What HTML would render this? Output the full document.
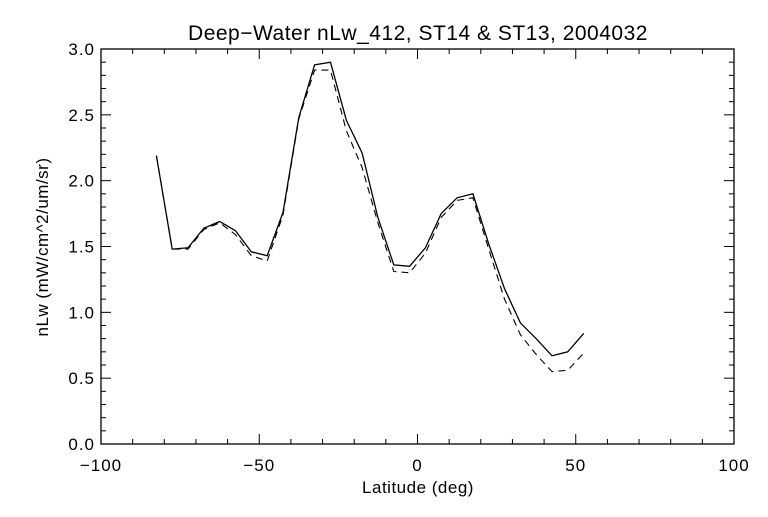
<!DOCTYPE html>
<html><head><meta charset="utf-8"><style>
body{margin:0;background:#fff;}
svg text{font-family:"Liberation Sans",sans-serif;fill:#000;}
</style></head><body>
<svg id="chart" width="768" height="512" xmlns="http://www.w3.org/2000/svg">
<rect width="768" height="512" fill="#fff"/>
<text x="418" y="40" font-size="21" text-anchor="middle" letter-spacing="0.5">Deep−Water nLw_412, ST14 &amp; ST13, 2004032</text>
<text x="418" y="493" font-size="17" text-anchor="middle" letter-spacing="0.5">Latitude (deg)</text>
<text x="48" y="247" font-size="17" text-anchor="middle" letter-spacing="0.5" transform="rotate(-90 48 247)">nLw (mW/cm^2/um/sr)</text>
<g id="axes"></g>
<g id="series"></g>
</svg>
<script>
const lats = [-82.5,-77.5,-72.5,-67.5,-62.5,-57.5,-52.5,-47.5,-42.5,-37.5,-32.5,-27.5,-22.5,-17.5,-12.5,-7.5,-2.5,2.5,7.5,12.5,17.5,22.5,27.5,32.5,37.5,42.5,47.5,52.5];
const st14 = [2.19,1.48,1.49,1.64,1.69,1.62,1.46,1.43,1.76,2.48,2.88,2.90,2.46,2.21,1.72,1.36,1.35,1.49,1.75,1.87,1.90,1.52,1.18,0.92,0.80,0.67,0.70,0.84];
const st13 = [2.19,1.48,1.48,1.63,1.68,1.59,1.43,1.39,1.74,2.47,2.84,2.84,2.38,2.10,1.68,1.31,1.30,1.45,1.72,1.85,1.87,1.48,1.10,0.83,0.68,0.55,0.56,0.69];
const xTicks = [-100,-50,0,50,100];
const yTicks = [0.0,0.5,1.0,1.5,2.0,2.5,3.0];

const L=101,R=734,T=49,B=444;
const xs=v=>L+(v+100)/200*(R-L);
const ys=v=>B-v/3*(B-T);
const NS="http://www.w3.org/2000/svg";
const axes=document.getElementById('axes');
function mk(tag,attrs,parent){const e=document.createElementNS(NS,tag);for(const k in attrs)e.setAttribute(k,attrs[k]);parent.appendChild(e);return e;}
const frame=mk('rect',{x:L,y:T,width:R-L,height:B-T,fill:'none',stroke:'#000','stroke-width':1.3},axes);


for(let v=-100;v<=100;v+=10){
  const len=(v%50===0)?10:5;const x=xs(v);
  mk('line',{x1:x,y1:B,x2:x,y2:B-len,stroke:'#000'},axes);
  mk('line',{x1:x,y1:T,x2:x,y2:T+len,stroke:'#000'},axes);
}
for(let i=0;i<=30;i++){
  const v=i/10;const len=(i%5===0)?10:5;const y=ys(v);
  mk('line',{x1:L,y1:y,x2:L+len,y2:y,stroke:'#000'},axes);
  mk('line',{x1:R,y1:y,x2:R-len,y2:y,stroke:'#000'},axes);
}
xTicks.forEach(v=>{
  const t=mk('text',{x:xs(v),y:471,'font-size':17,'text-anchor':'middle','letter-spacing':1},axes);
  t.textContent=(v<0?'−':'')+Math.abs(v);
  
  
});
yTicks.forEach(v=>{
  const t=mk('text',{x:95,y:ys(v)+6,'font-size':17,'text-anchor':'end','letter-spacing':1},axes);
  t.textContent=v.toFixed(1);
  
  
});
const g=document.getElementById('series');
const pts=a=>a.map((v,i)=>xs(lats[i]).toFixed(1)+','+ys(v).toFixed(1)).join(' ');
const s1=mk('polyline',{points:pts(st14),fill:'none',stroke:'#000','stroke-width':1.3},g);


const s2=mk('polyline',{points:pts(st13),fill:'none',stroke:'#000','stroke-width':1.1,'stroke-dasharray':'7,5'},g);


</script>
</body></html>
